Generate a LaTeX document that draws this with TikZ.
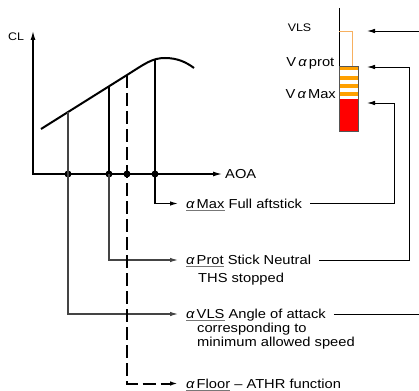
\documentclass[tikz,border=0pt]{standalone}
\usepackage{fontspec}
\setmainfont{Liberation Sans}[FakeStretch=1.13]
\usetikzlibrary{arrows.meta}
\definecolor{ulgray}{HTML}{777777}
\definecolor{leadgray}{HTML}{444444}
\definecolor{tapegray}{HTML}{555555}
\definecolor{tapeorange}{HTML}{FFA000}
\definecolor{tapered}{HTML}{FF0000}
\definecolor{vlsorange}{HTML}{F7B060}
\newsavebox\ulbox
\newcommand\myul[1]{\sbox\ulbox{#1}\rlap{\color{ulgray}\rule[-2.3pt]{\wd\ulbox}{0.9pt}}\usebox\ulbox}
\newcommand\alp{{\itshape α}}
\begin{document}
\begin{tikzpicture}[x=1pt,y=-1pt,
  font=\fontsize{13}{15}\selectfont,
  tip/.style={-{Latex[length=8pt,width=4.5pt]}},
  axis/.style={line width=1.2pt,-{Latex[length=9pt,width=5pt]}},
  lbl/.style={anchor=west,inner xsep=8pt,inner ysep=0pt,text height=9.3pt,text depth=0pt},
  sub/.style={anchor=base west,inner sep=0pt},
  lead/.style={draw=leadgray,line width=1.1pt},
  conn/.style={line width=0.9pt},
  dot/.style={circle,fill=black,inner sep=0pt,minimum size=7pt},
  small/.style={font=\fontsize{11}{13}\selectfont}]
\useasboundingbox (0,0) rectangle (419,390);
\clip (0,0) rectangle (419,390);

% axes
\coordinate (O) at (33,174);
\coordinate (ytop) at (33,31);
\coordinate (xend) at (222,174);
\draw[axis] (33,174.6) -- (ytop);
\draw[axis] (O) -- (xend);
\node[small] (cl) at (16,37) {CL};
\node[anchor=west,inner sep=0pt] (aoa) at (225,174) {AOA};

% lift curve
\draw[line width=2pt] (41,129) -- (127,75) .. controls (145,63.7) and (152,58) .. (165,58)
  .. controls (177,58) and (186,62) .. (194,68);
\coordinate (cVLS) at (68,112);
\coordinate (cProt) at (109,86.3);
\coordinate (cFloor) at (127,75);
\coordinate (cMax) at (155,59.5);

% labels
\node[lbl] (amax) at (178,203.5) {\myul{\alp\,Max} Full aftstick};
\node[lbl] (aprot) at (178,260) {\myul{\alp\,Prot} Stick Neutral};
\node[sub] (ths) at (198,282) {THS stopped};
\node[lbl] (avls) at (178,314) {\myul{\alp\,VLS} Angle of attack};
\node[sub] (corr) at (197,332.5) {corresponding to};
\node[sub] (minsp) at (197,346) {minimum allowed speed};
\node[lbl] (afloor) at (178,383.5) {\myul{\alp\,Floor} – ATHR function};

% dots on AOA axis
\node[dot] (dVLS) at (68,174) {};
\node[dot] (dProt) at (109,174) {};
\node[dot] (dFloor) at (127,174) {};
\node[dot] (dMax) at (155,174) {};

% leaders from curve
\draw[lead] (cVLS) -- (dVLS.center);
\draw[lead,tip] (dVLS.center) |- (avls.west);
\draw[line width=2pt] (cProt) -- (dProt.center);
\draw[lead,tip] (dProt.center) |- (aprot.west);
\draw[line width=1.2pt,tip] (cMax) |- (amax.west);
\draw[line width=2pt,dash pattern=on 13pt off 5pt,tip] (cFloor) |- (afloor.west);

% speed tape
\coordinate (tapetop) at (339,8);
\coordinate (tVLS) at (367,31);
\coordinate (tProt) at (367,67);
\coordinate (tMax) at (367,103);
\fill[white] (339,66) rectangle (358,99);
\foreach \y in {66,76,84,92} \fill[tapeorange] (339,\y) rectangle (358,\y+4);
\fill[tapered] (339,99) rectangle (358,131);
\node[draw=tapegray,line width=1pt,minimum width=19pt,minimum height=65pt,inner sep=0pt,anchor=north west] (tape) at (339,66) {};
\draw[line width=1pt] (tapetop) -- (tape.north west);
\draw[vlsorange,line width=0.8pt] (339,31) -- (352,31) -- (352,66);
\node[small] (vlsl) at (299.5,28) {VLS};
\node[anchor=east,inner sep=0pt,text height=9.3pt,text depth=0pt] (vprot) at (334.5,62) {V\,\alp\,prot};
\node[anchor=east,inner sep=0pt,text height=9.3pt,text depth=0pt] (vmax) at (336,93.7) {V\,\alp\,Max};

% connectors to the tape
\draw[conn,tip] (amax.east) -| ([xshift=27pt]tMax) -- (tMax);
\draw[conn,tip] (aprot.east) -| ([xshift=42pt]tProt) -- (tProt);
\draw[conn,tip] (avls.east) -| ([xshift=54pt]tVLS) -- (tVLS);
\end{tikzpicture}
\end{document}
